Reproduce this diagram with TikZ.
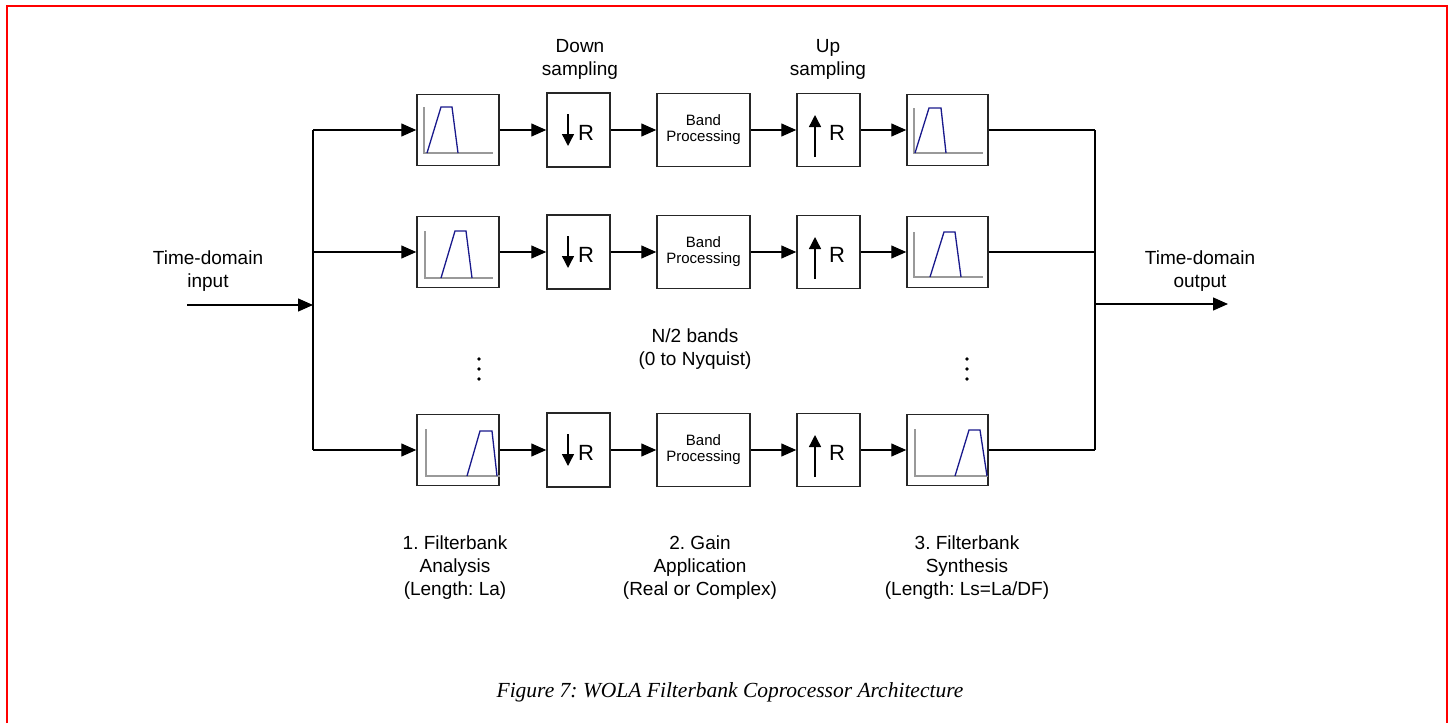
\documentclass[tikz,border=0pt]{standalone}
\usepackage{fontspec}
\setmainfont{Liberation Sans}
\newfontfamily\capfont{Liberation Serif}
\usetikzlibrary{arrows.meta}
\frenchspacing
\begin{document}
\begin{tikzpicture}[x=1pt,y=-1pt,
  blk/.style={draw=black!85, line width=1.5pt, inner sep=0pt, fill=white},
  fbox/.style={blk, minimum width=82pt, minimum height=71pt},
  rbox/.style={blk, minimum width=63pt, minimum height=74pt},
  bpbox/.style={blk, minimum width=93pt, minimum height=73pt, font=\fontsize{15}{16}\selectfont, align=center},
  sig/.style={line width=1.3pt, black},
  arr/.style={sig, -{Triangle[length=15pt,width=13pt]}},
  smallarr/.style={line width=1.4pt, -{Triangle[length=12pt,width=12pt]}},
  rlab/.style={font=\fontsize{22}{24}\selectfont, inner sep=0pt},
  lab/.style={font=\fontsize{19}{23}\selectfont, align=center, inner sep=0pt},
  axis/.style={line width=1.2pt, black!40},
  band/.style={line width=1.3pt, blue!50!black!90},
  dot/.style={circle, fill=black, inner sep=0pt, minimum size=3.6pt}
]
\useasboundingbox (0,0) rectangle (1450,723);
% frame
\draw[red, line width=2pt] (7,723) -- (7,6) -- (1447,6) -- (1447,723);

% buses
\coordinate (L1) at (313,130);
\coordinate (L3) at (313,450);
\coordinate (Lin) at (313,305);
\coordinate (inp) at (187,305);
\coordinate (R1) at (1095,130);
\coordinate (R3) at (1095,450);
\coordinate (Rout) at (1095,304);
\coordinate (outp) at (1228,304);
\draw[sig] (L1) -- (L3);
\draw[sig] (R1) -- (R3);
\draw[arr] (inp) -- (Lin);
\draw[arr] (Rout) -- (outp);

\foreach \r/\y in {1/130,2/252,3/450}{
  \coordinate (L\r) at (313,\y);
  \coordinate (R\r) at (1095,\y);
  \node[fbox] (a\r) at (458,\y) {};
  \node[rbox] (d\r) at (578.5,\y) {};
  \node[bpbox] (b\r) at (703.5,\y) {Band\\Processing};
  \node[rbox, minimum height=73pt] (u\r) at (828.5,\y) {};
  \node[fbox, minimum width=81pt] (s\r) at (947.5,\y) {};
  \draw[arr] (L\r) -- (a\r);
  \draw[arr] (a\r) -- (d\r);
  \draw[arr] (d\r) -- (b\r);
  \draw[arr] (b\r) -- (u\r);
  \draw[arr] (u\r) -- (s\r);
  \draw[sig] (s\r) -- (R\r);
  \draw[smallarr] ([shift={(-10.5,-16)}]d\r.center) -- ([shift={(-10.5,16)}]d\r.center);
  \node[rlab] (dr\r) at ([shift={(7.5,3)}]d\r.center) {R};
  \draw[smallarr] ([shift={(-13.5,27)}]u\r.center) -- ([shift={(-13.5,-15)}]u\r.center);
  \node[rlab] (ur\r) at ([shift={(8.5,3)}]u\r.center) {R};
}

% filter icons - analysis
\draw[axis] (424,107) -- (424,153) -- (493,153);
\draw[band] (427,153) -- (441,107) -- (452,107) -- (458,153);
\draw[axis] (425,231) -- (425,278) -- (493,278);
\draw[band] (441,278) -- (455,231) -- (466,231) -- (472,278);
\draw[axis] (426,429) -- (426,476) -- (500,476);
\draw[band] (467,476) -- (480,431) -- (492,431) -- (497,476);
% filter icons - synthesis
\draw[axis] (914,108) -- (914,153) -- (983,153);
\draw[band] (915,153) -- (929,108) -- (941,108) -- (946,153);
\draw[axis] (914,232) -- (914,277) -- (983,277);
\draw[band] (930,277) -- (944,232) -- (955,232) -- (961,277);
\draw[axis] (915,429) -- (915,476) -- (988,476);
\draw[band] (955,476) -- (969,430) -- (980,430) -- (987,476);

% dots
\foreach \k/\yy in {1/359,2/369,3/379}{
  \node[dot] (ld\k) at (479,\yy) {};
  \node[dot] (rd\k) at (967,\yy) {};
}

% labels
\node[lab] (tin) at (208,271) {Time-domain\\input};
\node[lab] (tout) at (1200,271) {Time-domain\\output};
\node[lab] (dn) at (580,59) {Down\\sampling};
\node[lab] (up) at (828,59) {Up\\sampling};
\node[lab] (nb) at (695,349) {N/2 bands\\(0 to Nyquist)};
\node[lab] (l1) at (455,568) {1. Filterbank\\Analysis\\(Length: La)};
\node[lab] (l2) at (700,568) {2. Gain\\Application\\(Real or Complex)};
\node[lab] (l3) at (967,568) {3. Filterbank\\Synthesis\\(Length: Ls=La/DF)};
\node[font=\capfont\itshape\fontsize{21.5}{24}\selectfont, inner sep=0pt] (cap) at (730,692) {Figure 7: WOLA Filterbank Coprocessor Architecture};
\end{tikzpicture}
\end{document}
